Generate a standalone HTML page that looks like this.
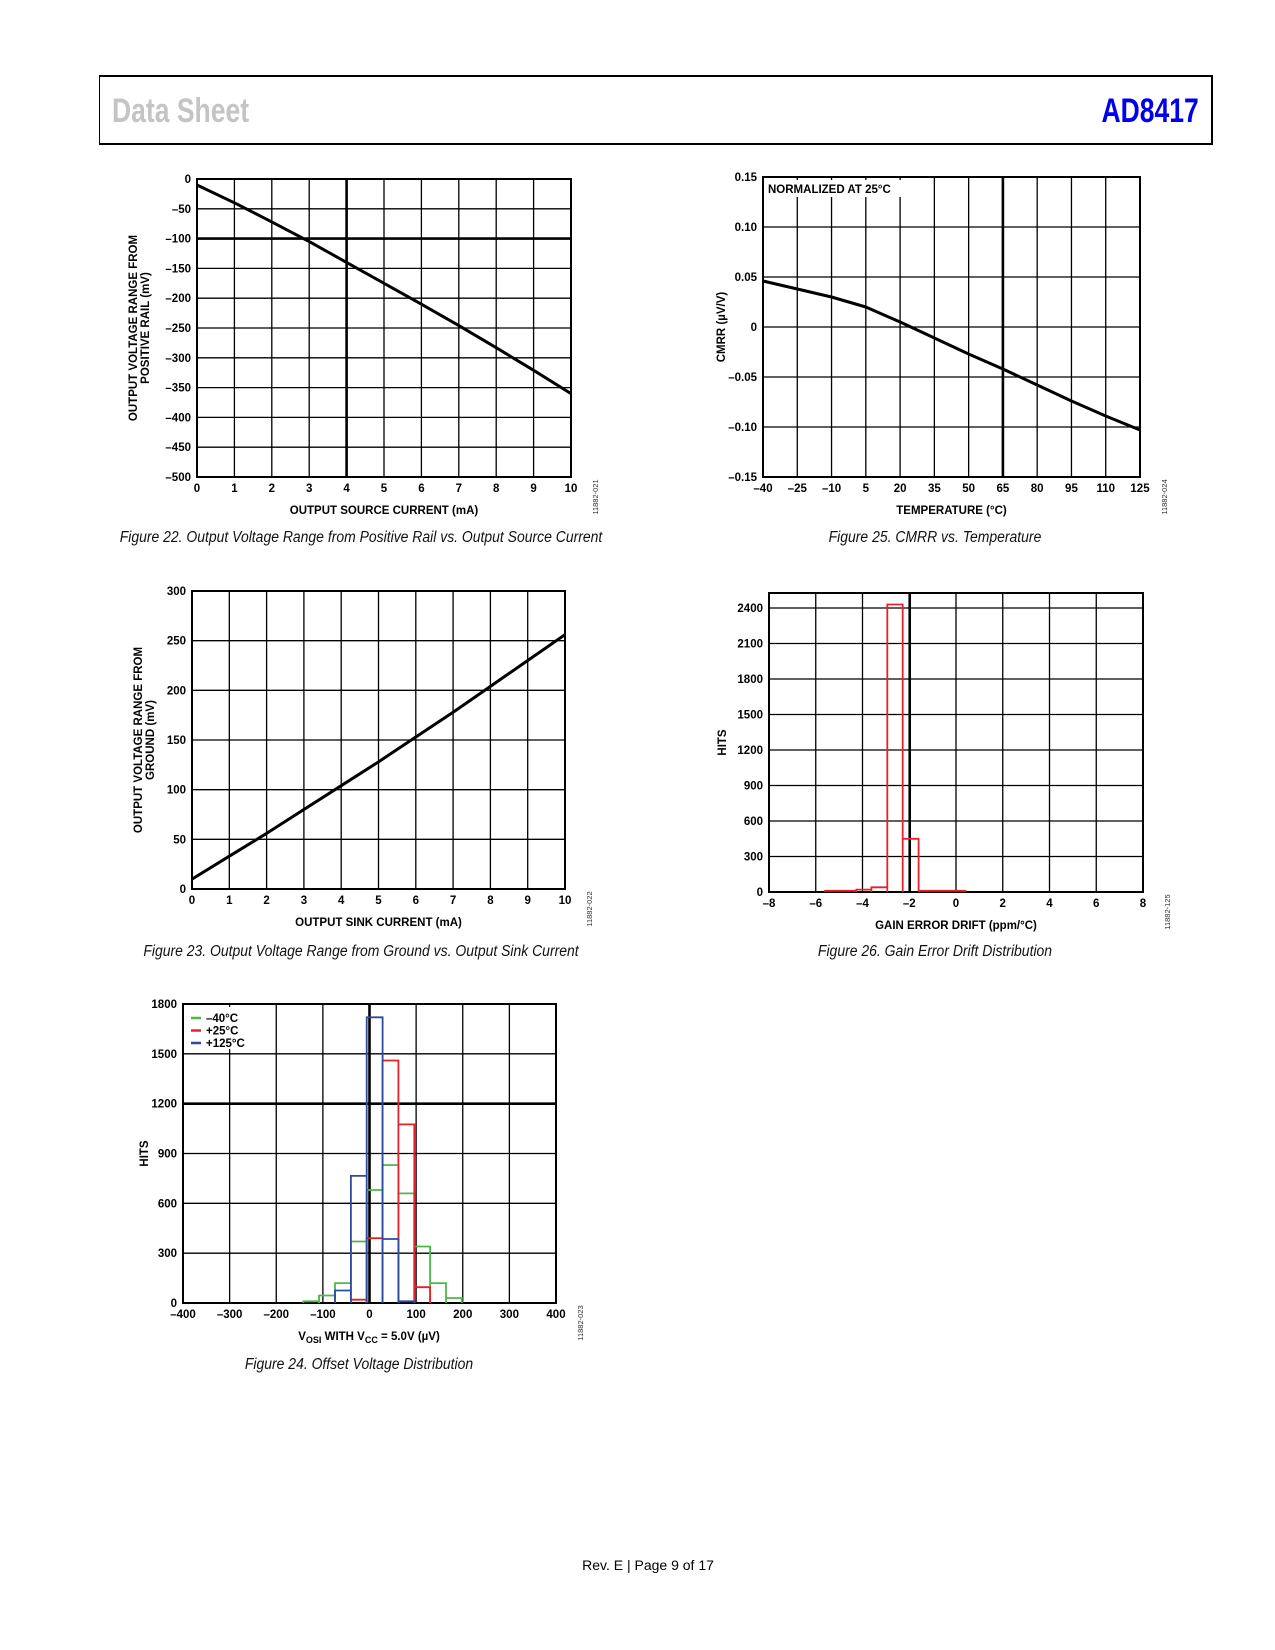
<!DOCTYPE html>
<html><head><meta charset="utf-8">
<style>
body{margin:0;background:#fff;width:1275px;height:1650px;position:relative;overflow:hidden;font-family:"Liberation Sans",sans-serif}
.hdr{position:absolute;left:99px;top:75px;width:1111px;height:66px;border:2px solid #000;border-left:1.5px solid #000}
.ds{position:absolute;left:12px;top:15px;font:bold 34px "Liberation Sans Narrow","Liberation Sans",sans-serif;color:#c4c4c4;transform:scaleX(0.78);transform-origin:left}
.pn{position:absolute;right:12px;top:15px;font:bold 34px "Liberation Sans Narrow","Liberation Sans",sans-serif;color:#0000ee;transform:scaleX(0.78);transform-origin:right}
.cap{position:absolute;font:italic 15.5px "Liberation Sans",sans-serif;color:#111;transform:translateX(-50%) scaleX(0.9);white-space:nowrap}
.foot{position:absolute;left:648px;top:1557px;font:14px "Liberation Sans",sans-serif;transform:translateX(-50%);white-space:nowrap}
svg{position:absolute;left:0;top:0}
</style></head><body>
<div class="hdr">
<div class="ds">Data Sheet</div>
<div class="pn">AD8417</div>
</div>
<div class="cap" style="left:361px;top:529px">Figure 22. Output Voltage Range from Positive Rail vs. Output Source Current</div>
<div class="cap" style="left:361px;top:943px">Figure 23. Output Voltage Range from Ground vs. Output Sink Current</div>
<div class="cap" style="left:359px;top:1356px">Figure 24. Offset Voltage Distribution</div>
<div class="cap" style="left:935px;top:529px">Figure 25. CMRR vs. Temperature</div>
<div class="cap" style="left:935px;top:943px">Figure 26. Gain Error Drift Distribution</div>
<div class="foot">Rev. E | Page 9 of 17</div>
<svg id="s" width="1275" height="1650" xmlns="http://www.w3.org/2000/svg"></svg>
<script>
// Figure 22
const f22X=[0,1,2,3,4,5,6,7,8,9,10];
const f22Y=[-10,-40,-72,-105,-140,-175,-210,-246,-283,-321,-360];
const f22XTicks=[0,1,2,3,4,5,6,7,8,9,10];
const f22YTicks=[0,-50,-100,-150,-200,-250,-300,-350,-400,-450,-500];
// Figure 23
const f23X=[0,1,2,3,4,5,6,7,8,9,10];
const f23Y=[10,33,56,80,104,128,153,178,204,230,256];
const f23XTicks=[0,1,2,3,4,5,6,7,8,9,10];
const f23YTicks=[0,50,100,150,200,250,300];
// Figure 25
const f25X=[-40,-25,-10,5,20,35,50,65,80,95,110,125];
const f25Y=[0.046,0.038,0.030,0.020,0.005,-0.011,-0.027,-0.042,-0.058,-0.074,-0.089,-0.103];
const f25XTicks=[-40,-25,-10,5,20,35,50,65,80,95,110,125];
const f25YTicks=[0.15,0.10,0.05,0,-0.05,-0.10,-0.15];
const f25YLabels=["0.15","0.10","0.05","0","–0.05","–0.10","–0.15"];
// Figure 24
const f24Edges=[-142,-108,-74,-40,-6,28,62,96,130,164,198];
const f24Green=[10,45,120,370,680,830,660,340,120,30];
const f24Red=[0,0,0,20,390,1460,1075,95,0,0];
const f24Blue=[0,0,75,765,1720,385,10,0,0,0];
const f24XTicks=[-400,-300,-200,-100,0,100,200,300,400];
const f24YTicks=[0,300,600,900,1200,1500,1800];
// Figure 26
const f26Edges=[-5.6,-4.26,-3.62,-2.94,-2.28,-1.6,0.4];
const f26Hits=[10,20,40,2430,450,10];
const f26XTicks=[-8,-6,-4,-2,0,2,4,6,8];
const f26YTicks=[0,300,600,900,1200,1500,1800,2100,2400];

const S=document.getElementById('s');
const NS='http://www.w3.org/2000/svg';
function mk(tag,attrs,parent){const e=document.createElementNS(NS,tag);for(const k in attrs)e.setAttribute(k,attrs[k]);(parent||S).appendChild(e);return e;}
function txt(x,y,t,anchor,size,parent,rot){const e=mk('text',{x:x,y:y,'text-anchor':anchor||'middle','font-size':size||11.5,'font-weight':'bold','font-family':'Liberation Sans, sans-serif'},parent);if(rot)e.setAttribute('transform','rotate(-90 '+x+' '+y+')');e.textContent=t;return e;}
function fmt(v){return v<0?'–'+Math.abs(v):String(v);}
function chart(c){
  const g=mk('g',{});
  
  
  const sx=v=>c.L+(v-c.x0)/(c.x1-c.x0)*(c.R-c.L);
  const sy=v=>c.B-(v-c.y0)/(c.y1-c.y0)*(c.B-c.T);
  c.sx=sx;c.sy=sy;
  c.xg.forEach(v=>{const l=mk('line',{x1:sx(v),x2:sx(v),y1:c.T,y2:c.B,stroke:'#000','stroke-width':(v===c.thickX?2.6:1.3)},g);});
  c.yg.forEach(v=>{const l=mk('line',{x1:c.L,x2:c.R,y1:sy(v),y2:sy(v),stroke:'#000','stroke-width':(v===c.thickY?2.6:1.3)},g);});
  const r=mk('rect',{x:c.L,y:c.T,width:c.R-c.L,height:c.B-c.T,fill:'none',stroke:'#000','stroke-width':2},g);
  
  c.xt.forEach((v,i)=>{const t=txt(sx(v),c.B+15,c.xl?c.xl[i]:fmt(v),'middle',11.5,g);});
  c.yt.forEach((v,i)=>{const t=txt(c.L-6,sy(v)+4,c.yl?c.yl[i]:fmt(v),'end',11.5,g);});
  const xt=txt((c.L+c.R)/2,c.B+37,c.xtitle,'middle',11.5,g);
  c.ytitle.forEach((s,i)=>{const yt=txt(c.ytx+i*12,(c.T+c.B)/2,s,'middle',11.5,g,true);});
  const code=mk('text',{x:c.R+27,y:c.B+20,'font-size':7.5,'font-family':'Liberation Sans, sans-serif','text-anchor':'middle',fill:'#333',transform:'rotate(-90 '+(c.R+27)+' '+(c.B+20)+')'},g);
  code.textContent=c.code;
  return g;
}
function line(c,xs,ys,name){
  const d=xs.map((x,i)=>(i?'L':'M')+c.sx(x).toFixed(1)+' '+c.sy(ys[i]).toFixed(1)).join(' ');
  const p=mk('path',{d:d,fill:'none',stroke:'#000','stroke-width':3,'stroke-linejoin':'round'});
  
}
function hist(c,edges,vals,color,name){
  let d='';
  for(let i=0;i<vals.length;i++){
    if(!vals[i])continue;
    const x0=c.sx(edges[i]),x1=c.sx(edges[i+1]),y=c.sy(vals[i]),b=c.sy(0);
    d+='M'+x0.toFixed(1)+' '+b+' L'+x0.toFixed(1)+' '+y.toFixed(1)+' L'+x1.toFixed(1)+' '+y.toFixed(1)+' L'+x1.toFixed(1)+' '+b+' ';
  }
  const p=mk('path',{d:d,fill:'none',stroke:color,'stroke-width':1.8});
  
}
// Fig 22
const c22={name:'figure-22-chart',L:197,R:571,T:179,B:477,x0:0,x1:10,y0:-500,y1:0,xg:f22XTicks,yg:f22YTicks,xt:f22XTicks,yt:f22YTicks,thickX:4,thickY:-100,xtitle:'OUTPUT SOURCE CURRENT (mA)',ytitle:['OUTPUT VOLTAGE RANGE FROM','POSITIVE RAIL (mV)'],ytx:137,code:'11882-021'};
chart(c22);line(c22,f22X,f22Y,'source-current-curve');
// Fig 23
const c23={name:'figure-23-chart',L:192,R:565,T:591,B:889,x0:0,x1:10,y0:0,y1:300,xg:f23XTicks,yg:f23YTicks,xt:f23XTicks,yt:f23YTicks,xtitle:'OUTPUT SINK CURRENT (mA)',ytitle:['OUTPUT VOLTAGE RANGE FROM','GROUND (mV)'],ytx:142,code:'11882-022'};
chart(c23);line(c23,f23X,f23Y,'sink-current-curve');
// Fig 25
const c25={name:'figure-25-chart',L:763,R:1140,T:177,B:477,x0:-40,x1:125,y0:-0.15,y1:0.15,xg:f25XTicks,yg:f25YTicks,xt:f25XTicks,yt:f25YTicks,yl:f25YLabels,thickX:65,xtitle:'TEMPERATURE (°C)',ytitle:['CMRR (µV/V)'],ytx:725,code:'11882-024'};
chart(c25);
const nb=mk('rect',{x:766,y:180,width:138,height:17,fill:'#fff'});
const nt=txt(768,193,'NORMALIZED AT 25°C','start',11.5);
line(c25,f25X,f25Y,'cmrr-curve');
// Fig 24
const c24={name:'figure-24-chart',L:183,R:556,T:1004,B:1303,x0:-400,x1:400,y0:0,y1:1800,xg:f24XTicks,yg:f24YTicks,xt:f24XTicks,yt:f24YTicks,thickX:0,thickY:1200,xtitle:'',ytitle:['HITS'],ytx:148,code:'11882-023'};
chart(c24);
const vt=mk('text',{x:369,y:1340,'text-anchor':'middle','font-size':11.5,'font-weight':'bold','font-family':'Liberation Sans, sans-serif'});
vt.innerHTML='V<tspan font-size="9" dy="3">OSI</tspan><tspan dy="-3">  WITH V</tspan><tspan font-size="9" dy="3">CC</tspan><tspan dy="-3"> = 5.0V (µV)</tspan>';

hist(c24,f24Edges,f24Green,'#4cb848','histogram-minus-40c');
hist(c24,f24Edges,f24Red,'#e8202a','histogram-plus-25c');
hist(c24,f24Edges,f24Blue,'#2e4a9e','histogram-plus-125c');
const leg=[['–40°C','#4cb848'],['+25°C','#e8202a'],['+125°C','#2e4a9e']];
const lb=mk('rect',{x:186,y:1007,width:64,height:42,fill:'#fff'});
leg.forEach((e,i)=>{const y=1018+i*12.5;
 const l=mk('line',{x1:191,x2:201,y1:y,y2:y,stroke:e[1],'stroke-width':2.5});
 const t=txt(206,y+4,e[0],'start',11.5);});
// Fig 26
const c26={name:'figure-26-chart',L:769,R:1143,T:593,B:892,x0:-8,x1:8,y0:0,y1:2527,xg:f26XTicks,yg:f26YTicks,xt:f26XTicks,yt:f26YTicks,xtitle:'GAIN ERROR DRIFT (ppm/°C)',ytitle:['HITS'],ytx:726,code:'11882-125'};
chart(c26);
const ml=mk('line',{x1:c26.sx(-1.98),x2:c26.sx(-1.98),y1:593,y2:892,stroke:'#000','stroke-width':2.6});
hist(c26,f26Edges,f26Hits,'#e8202a','gain-drift-histogram');
</script>
</body></html>
